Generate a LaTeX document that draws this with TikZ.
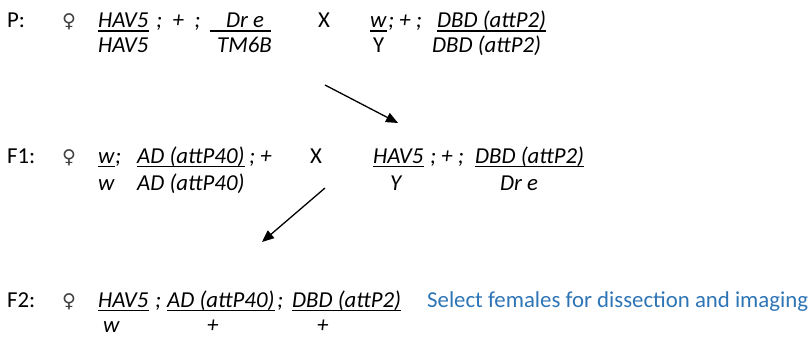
\documentclass[tikz,border=0pt]{standalone}
\usepackage{fontspec}
\setmainfont{Carlito}
\newfontfamily\symfont{DejaVu Sans}
\usepackage{tikz}
\usetikzlibrary{arrows.meta}
\definecolor{noteblue}{HTML}{2E75B6}
\newcommand{\crossfont}{\fontsize{22.8}{27}\selectfont}

\tikzset{
    lab/.style={anchor=base west,inner sep=0pt,font=\crossfont},
    gene/.style={anchor=base west,inner sep=0pt,font=\crossfont\itshape},
    sym/.style={anchor=base west,inner sep=0pt,font=\symfont\fontsize{19}{22}\selectfont,text=black!75},
    note/.style={anchor=base west,inner sep=0pt,font=\crossfont,text=noteblue},
    uline/.style={line width=1.6pt},
    cross/.style={-{Triangle[length=12pt,width=10pt]},line width=1.3pt}
}

\begin{document}
\begin{tikzpicture}[x=1pt,y=-1pt]
    \useasboundingbox (0,0) rectangle (812,337);
    % parents
    \node[lab] (pP) at (7,27.5) {P:};
    \node[sym] (pfem) at (62,27.5) {♀};
    \node[gene] (pa1) at (98,27.5) {HAV5};
    \node[gene] (pa2) at (156,27.5) {;\ \ +\ \ ;};
    \node[gene] (pa3) at (210,27.5) {\hspace*{16pt}Dr e\hspace*{7pt}};
    \node[gene] (pb1) at (98,53) {HAV5};
    \node[gene] (pb3) at (217,53) {TM6B};
    \node[lab] (px) at (318,27.5) {X};
    \node[gene] (pc1) at (370,27.5) {w};
    \node[gene] (pc2) at (388,27.5) {;\ +\ ;};
    \node[gene] (pc3) at (437,27.5) {DBD (attP2)};
    \node[lab] (pd1) at (373,53) {Y};
    \node[gene] (pd3) at (432,53) {DBD (attP2)};
    % F1
    \node[lab] (fP) at (7,163) {F1:};
    \node[sym] (ffem) at (62,163) {♀};
    \node[gene] (fa1) at (98,163) {w};
    \node[gene] (fa2) at (115,163) {;};
    \node[gene] (fa3) at (137,163) {AD (attP40)};
    \node[gene] (fa4) at (249,163) {;\ +};
    \node[gene] (fb1) at (98,190) {w};
    \node[gene] (fb3) at (137,190) {AD (attP40)};
    \node[lab] (fx) at (310,163) {X};
    \node[gene] (fc1) at (373,163) {HAV5};
    \node[gene] (fc2) at (430,163) {;\ +\ ;};
    \node[gene] (fc3) at (475,163) {DBD (attP2)};
    \node[gene] (fd1) at (390,190) {Y};
    \node[gene] (fd3) at (500,190) {Dr e};
    % F2
    \node[lab] (sP) at (7,307) {F2:};
    \node[sym] (sfem) at (62,307) {♀};
    \node[gene] (sa1) at (98,307) {HAV5};
    \node[gene] (sa2) at (155,307) {;};
    \node[gene] (sa3) at (167,307) {AD (attP40)};
    \node[gene] (sa4) at (277,307) {;};
    \node[gene] (sa5) at (292,307) {DBD (attP2)};
    \node[note] (sel) at (427,307) {Select females for dissection and imaging};
    \node[gene] (sb1) at (103,332) {w};
    \node[gene] (sb3) at (207,332) {+};
    \node[gene] (sb5) at (317,332) {+};
    % underlines
    \foreach \n in {pa1,pa3,pc1,pc3,fa1,fa3,fc1,fc3,sa1,sa3,sa5}
        \draw[uline] ([yshift=-3.5pt]\n.base west) -- ([yshift=-3.5pt]\n.base east);
    % crosses
    \coordinate (c1s) at (325,85);
    \coordinate (c1e) at (398,123);
    \coordinate (c2s) at (325,188);
    \coordinate (c2e) at (262,242);
    \draw[cross] (c1s) -- (c1e);
    \draw[cross] (c2s) -- (c2e);
\end{tikzpicture}
\end{document}
